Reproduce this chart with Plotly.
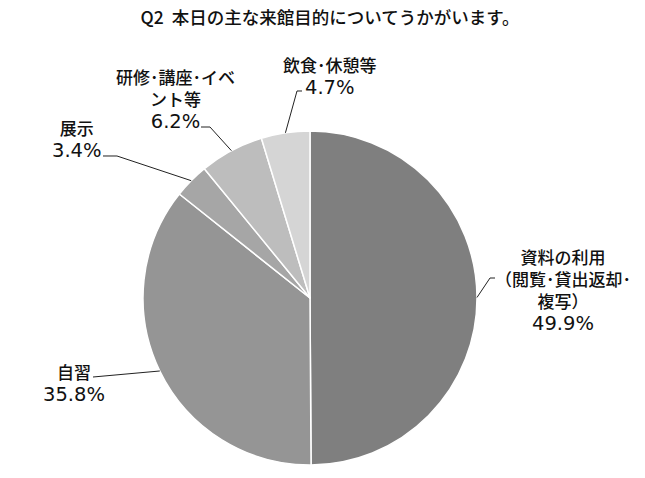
import math
import plotly.graph_objects as go

# data
labels = ["資料の利用", "自習", "展示", "研修・講座・イベント等", "飲食・休憩等"]
label_text = ["資料の利用<br>（閲覧･貸出返却･<br>複写）", "自習", "展示", "研修･講座･イベ<br>ント等", "飲食･休憩等"]
values = [49.9, 35.8, 3.4, 6.2, 4.7]
colors = ["#7f7f7f", "#959595", "#a6a6a6", "#bdbdbd", "#d5d5d5"]

W, H = 645, 478
OFF = 8  # page body margin
cx, cy, R = 310, 298, 167  # pie centre / radius in px

# where each label block sits (px) and the elbow of its leader line
label_pos = [(563, 289), (74, 382), (77, 139), (175, 99), (330, 75)]
elbows = [[(490, 278), (495, 278)],
          [(93, 377)],
          [(117, 156), (103, 156)],
          [(210, 127), (201, 127)],
          [(297, 91), (302, 91)]]

def px(x, y):
    return (x - OFF) / W, 1 - (y - OFF) / H

fig = go.Figure()
fig.add_trace(go.Pie(
    labels=labels, values=values, sort=False, direction="clockwise", rotation=0,
    marker=dict(colors=colors, line=dict(color="white", width=1.5)),
    textinfo="none", hoverinfo="label+percent", showlegend=False,
    domain=dict(x=[(cx - R - OFF) / W, (cx + R - OFF) / W],
                y=[(H - cy + OFF - R) / H, (H - cy + OFF + R) / H]),
))

font = dict(family="Noto Sans CJK JP", size=17, color="#111111", weight=500)
pct_style = "font-size:19.5px;font-family:'DejaVu Sans'"
total = sum(values)
start = 0
for i, v in enumerate(values):
    mid = math.radians((start + v / 2) / total * 360)
    start += v
    ex, ey = cx + R * math.sin(mid), cy - R * math.cos(mid)
    pts = [(ex, ey)] + elbows[i]
    path = "M " + " L ".join("%f,%f" % px(x, y) for x, y in pts)
    fig.add_shape(type="path", path=path, xref="paper", yref="paper",
                  line=dict(color="#222222", width=1))
    lx, ly = px(*label_pos[i])
    fig.add_annotation(x=lx, y=ly, xref="paper", yref="paper", showarrow=False,
                       xanchor="center", yanchor="middle",
                       text=label_text[i] + "<br><span style=\"" + pct_style + "\">%.1f%%</span>" % v,
                       font=font, align="center")

tx, ty = px(330, 18)
fig.update_layout(
    width=W, height=H,
    margin=dict(l=0, r=0, t=0, b=0),
    paper_bgcolor="white", plot_bgcolor="white",
    title=dict(text="Q2  本日の主な来館目的についてうかがいます。", x=tx, y=ty,
               xanchor="center", yanchor="middle",
               font=dict(family="Noto Sans CJK JP", size=17.5, color="#111111", weight=500)),
)

fig.write_html("out.html")
